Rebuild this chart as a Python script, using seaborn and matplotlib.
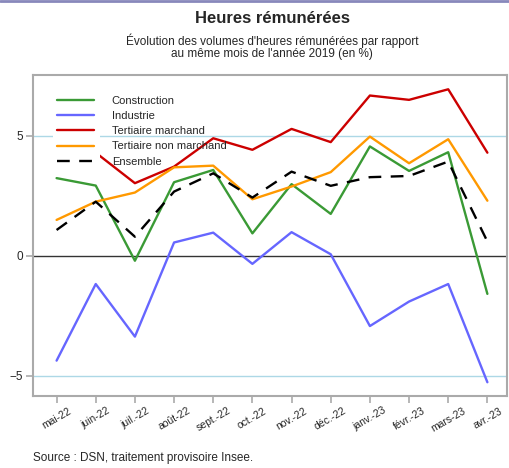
import matplotlib
matplotlib.use("Agg")
import matplotlib.pyplot as plt
from matplotlib.patches import Rectangle
import seaborn as sns
import pandas as pd

months = ["mai-22", "juin-22", "juil.-22", "août-22", "sept.-22", "oct.-22",
          "nov.-22", "déc.-22", "janv.-23", "févr.-23", "mars-23", "avr.-23"]
construction = [3.24, 2.93, -0.20, 3.07, 3.58, 0.94, 2.99, 1.75, 4.56, 3.54, 4.32, -1.58]
industrie = [-4.36, -1.17, -3.36, 0.56, 0.97, -0.33, 0.99, 0.07, -2.92, -1.90, -1.17, -5.26]
tertiaire_marchand = [4.80, 4.30, 3.03, 3.72, 4.90, 4.42, 5.29, 4.74, 6.68, 6.50, 6.94, 4.30]
tertiaire_non_marchand = [1.50, 2.26, 2.64, 3.69, 3.76, 2.36, 2.89, 3.49, 4.97, 3.86, 4.86, 2.30]
ensemble = [1.08, 2.26, 0.80, 2.68, 3.44, 2.43, 3.51, 2.92, 3.28, 3.33, 3.93, 0.60]

series = {
    "Construction": construction,
    "Industrie": industrie,
    "Tertiaire marchand": tertiaire_marchand,
    "Tertiaire non marchand": tertiaire_non_marchand,
    "Ensemble": ensemble,
}
colors = {
    "Construction": "#3a9a35",
    "Industrie": "#6666ff",
    "Tertiaire marchand": "#cc0000",
    "Tertiaire non marchand": "#ff9900",
    "Ensemble": "#000000",
}
dashes = {
    "Construction": "",
    "Industrie": "",
    "Tertiaire marchand": "",
    "Tertiaire non marchand": "",
    "Ensemble": (5.4, 4.0),
}

rows = []
for name, vals in series.items():
    for i, v in enumerate(vals):
        rows.append({"idx": i, "mois": months[i], "valeur": v, "serie": name})
df = pd.DataFrame(rows)

sns.set_theme(style="white")
plt.rcParams["font.family"] = ["Liberation Sans", "DejaVu Sans"]

fig = plt.figure(figsize=(5.09, 4.68), dpi=100)
ax = fig.add_axes([0.065, 0.154, 0.931, 0.686])

ax.axhline(5, color="#add8e6", lw=1.0, zorder=1)
ax.axhline(-5, color="#add8e6", lw=1.0, zorder=1)
ax.axhline(0, color="#333333", lw=1.0, zorder=1)

LW = 1.7
sns.lineplot(data=df, x="idx", y="valeur", hue="serie", style="serie",
             hue_order=list(series.keys()), style_order=list(series.keys()),
             palette=colors, dashes=dashes, linewidth=LW, ax=ax, zorder=3)

ax.set_xlim(-0.6, 11.5)
ax.set_ylim(-5.83, 7.54)
ax.set_xticks(range(len(months)))
ax.set_xticklabels(months, rotation=30, fontsize=7.5, ha="center", va="top")
ax.set_yticks([-5, 0, 5])
ax.set_yticklabels(["−5", "0", "5"], fontsize=8.5)
ax.set_xlabel("")
ax.set_ylabel("")
ax.tick_params(axis="both", which="both", length=5, width=1.2, color="#aaaaaa",
               direction="out", bottom=True, left=True, pad=2)
for sp in ax.spines.values():
    sp.set_color("#aaaaaa")
    sp.set_linewidth(1.5)

# white patch behind the legend handles only
ax.add_patch(Rectangle((0.042, 0.704), 0.099, 0.265, transform=ax.transAxes,
                       facecolor="white", edgecolor="none", zorder=4))

leg = ax.legend(loc="upper left", bbox_to_anchor=(0.03, 0.966), frameon=False,
                fontsize=8, handlelength=3.3, handletextpad=1.6,
                labelspacing=0.47, borderpad=0.4)
leg.set_zorder(5)
for line in leg.get_lines():
    line.set_linewidth(LW)

fig.text(0.535, 0.960, "Heures rémunérées", ha="center", va="center",
         fontsize=12, fontweight="bold")
fig.text(0.535, 0.900, "Évolution des volumes d'heures rémunérées par rapport\nau même mois de l'année 2019 (en %)",
         ha="center", va="center", fontsize=8.5, linespacing=1.1)
fig.text(0.065, 0.022, "Source : DSN, traitement provisoire Insee.", ha="left",
         va="center", fontsize=8.5)

fig.add_artist(plt.Line2D([0, 1], [0.998, 0.998], color="#8888bb", lw=2,
                          transform=fig.transFigure))

fig.savefig("out.png", dpi=100)
